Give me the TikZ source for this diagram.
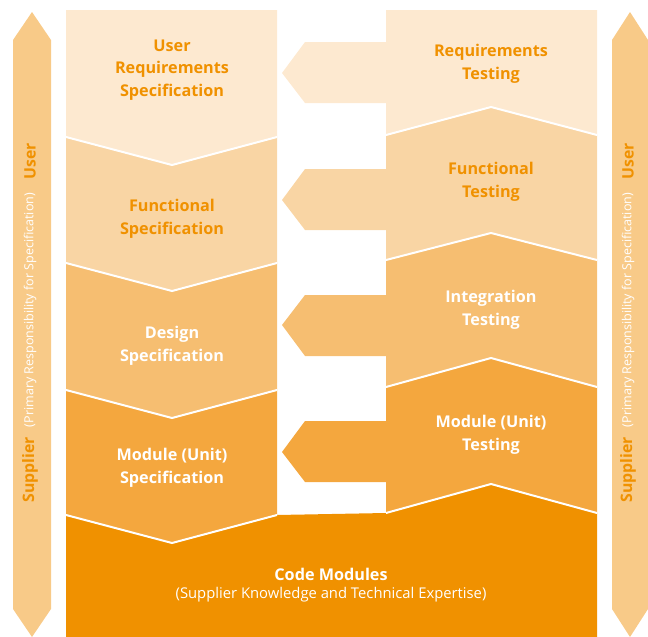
\documentclass[tikz,border=0pt]{standalone}
\usepackage{fontspec}
\setmainfont{Open Sans}
\definecolor{cA}{HTML}{FDE9D0}
\definecolor{cB}{HTML}{F9D5A4}
\definecolor{cC}{HTML}{F6BE71}
\definecolor{cD}{HTML}{F4A73E}
\definecolor{cE}{HTML}{F09100}
\definecolor{cSide}{HTML}{F8CA88}
\definecolor{cText}{HTML}{F09100}
\begin{document}
\begin{tikzpicture}[x=1pt,y=-1pt,
  sep/.style={white,line width=2pt},
  lbl/.style={font=\bfseries\fontsize{16.2}{22.5}\selectfont, align=center, inner sep=0pt},
  sidebold/.style={font=\bfseries\fontsize{15.8}{18}\selectfont, text=cText, rotate=90, inner sep=0pt},
  sidethin/.style={font=\fontsize{12.5}{14}\selectfont, text=white, rotate=90, inner sep=0pt}]
\useasboundingbox (0,0) rectangle (648,637);
% side arrows
\fill[cSide] (13,40) -- (32,12) -- (51,40) -- (51,609) -- (32,637) -- (13,609) -- cycle;
\fill[cSide] (612,40) -- (630,12) -- (648,40) -- (648,609) -- (630,637) -- (612,609) -- cycle;
% left column
\fill[cA] (66,10) -- (277,10) -- (277,137) -- (172,165) -- (66,137) -- cycle;
\fill[cB] (66,137) -- (172,165) -- (277,137) -- (277,263) -- (172,291) -- (66,263) -- cycle;
\fill[cC] (66,263) -- (172,291) -- (277,263) -- (277,390) -- (172,418) -- (66,390) -- cycle;
\fill[cD] (66,390) -- (172,418) -- (277,390) -- (277,515) -- (172,543) -- (66,515) -- cycle;
% right column with arrows
\fill[cA] (386,10) -- (597,10) -- (597,135) -- (491,107) -- (386,135) -- (386,103) -- (305,103) -- (282,73) -- (305,42) -- (386,42) -- cycle;
\fill[cB] (386,135) -- (491,107) -- (597,135) -- (597,260) -- (491,233) -- (386,260) -- (386,230) -- (305,230) -- (282,200) -- (305,169) -- (386,169) -- cycle;
\fill[cC] (386,260) -- (491,233) -- (597,260) -- (597,387) -- (491,358) -- (386,387) -- (386,356) -- (305,356) -- (282,325) -- (305,295) -- (386,295) -- cycle;
\fill[cD] (386,387) -- (491,358) -- (597,387) -- (597,513) -- (491,484) -- (386,513) -- (386,482) -- (305,482) -- (282,452) -- (305,421) -- (386,421) -- cycle;
% code modules
\fill[cE] (66,515) -- (172,543) -- (277,515) -- (386,513) -- (491,484) -- (597,513) -- (597,637) -- (66,637) -- cycle;
% separators
\draw[sep] (66,137) -- (172,165) -- (277,137);
\draw[sep] (66,263) -- (172,291) -- (277,263);
\draw[sep] (66,390) -- (172,418) -- (277,390);
\draw[sep] (66,515) -- (172,543) -- (277,515);
\draw[sep] (386,135) -- (491,107) -- (597,135);
\draw[sep] (386,260) -- (491,233) -- (597,260);
\draw[sep] (386,387) -- (491,358) -- (597,387);
\draw[sep] (386,513) -- (491,484) -- (597,513);
% labels
\node[lbl, text=cText] (urs) at (172,70) {User\\Requirements\\Specification};
\node[lbl, text=cText] (fs) at (172,219) {Functional\\Specification};
\node[lbl, text=white] (ds) at (172,346) {Design\\Specification};
\node[lbl, text=white] (ms) at (172,468) {Module (Unit)\\Specification};
\node[lbl, text=cText] (rt) at (491,64) {Requirements\\Testing};
\node[lbl, text=cText] (ft) at (491,182) {Functional\\Testing};
\node[lbl, text=white] (it) at (491,310) {Integration\\Testing};
\node[lbl, text=white] (mt) at (491,435) {Module (Unit)\\Testing};
\node[lbl, text=white] (cm) at (331,574) {Code Modules};
\node[font=\fontsize{14.8}{16}\selectfont, text=white, inner sep=0pt] (cmsub) at (331,595) {(Supplier Knowledge and Technical Expertise)};
% side labels
\node[sidebold] (luser) at (30,161) {User};
\node[sidethin] (lresp) at (30,310) {(Primary Responsibility for Specification)};
\node[sidebold] (lsup) at (30,470) {Supplier};
\node[sidebold] (ruser) at (628,161) {User};
\node[sidethin] (rresp) at (628,310) {(Primary Responsibility for Specification)};
\node[sidebold] (rsup) at (628,470) {Supplier};
\end{tikzpicture}
\end{document}
